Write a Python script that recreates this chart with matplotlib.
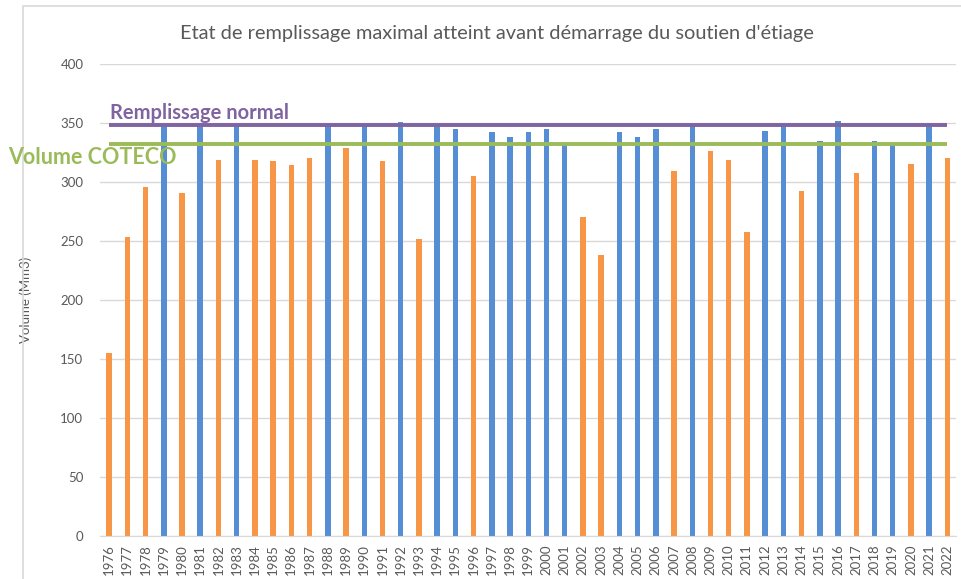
import matplotlib.pyplot as plt
from matplotlib.patches import Rectangle

years = list(range(1976, 2023))
volumes = [155, 253, 296, 349, 291, 349, 319, 349, 319, 318,
           314, 320, 349, 329, 349, 318, 351, 252, 348, 345,
           305, 342, 338, 342, 345, 331, 270, 238, 342, 338,
           345, 309, 349, 326, 319, 258, 343, 349, 292, 335,
           352, 308, 335, 331, 315, 349, 320]
# years where the COTECO volume was reached (blue bars)
reached = [1979, 1981, 1983, 1988, 1990, 1992, 1994, 1995, 1997, 1998,
           1999, 2000, 2001, 2004, 2005, 2006, 2008, 2012, 2013, 2015,
           2016, 2018, 2019, 2021]
normal_level = 348
coteco_level = 332

blue = '#558ED5'
orange = '#F79646'
purple = '#8064A2'
green = '#9BBB59'
grey = '#595959'

plt.rcParams['font.family'] = ['Lato', 'DejaVu Sans']

fig = plt.figure(figsize=(9.62, 5.79), dpi=100)
ax = fig.add_axes([100 / 962, 1 - 536 / 579, 856.5 / 962, 472 / 579])

# light frame around the chart
fig.patches.append(Rectangle((23 / 962, -0.1), 1.2, 1 - 6 / 579 + 0.1,
                             transform=fig.transFigure, fill=False,
                             edgecolor='#D9D9D9', linewidth=1.2))

x = list(range(len(years)))
colors = [blue if y in reached else orange for y in years]
ax.bar(x, volumes, width=0.3, color=colors, zorder=2)

ax.plot([0, 46], [normal_level, normal_level], color=purple, linewidth=2.8, zorder=3,
        solid_capstyle='butt')
ax.plot([0, 46], [coteco_level, coteco_level], color=green, linewidth=2.8, zorder=3,
        solid_capstyle='butt')

fig.text(110 / 962, 1 - 113 / 579, 'Remplissage normal', color=purple, fontsize=14.5,
         fontweight='bold', va='center', ha='left')
fig.text(8 / 962, 1 - 158 / 579, 'Volume COTECO', color=green, fontsize=15.5,
         fontweight='bold', va='center', ha='left')

ax.set_xlim(-0.5, len(years) - 0.5)
ax.set_ylim(0, 400)
ax.set_yticks(range(0, 401, 50))
ax.set_xticks(x)
ax.set_xticklabels([str(y) for y in years], rotation=90)
ax.tick_params(axis='both', length=0, colors=grey, labelsize=9.5)
ax.tick_params(axis='y', pad=12)
ax.tick_params(axis='x', pad=6)
ax.grid(axis='y', color='#D9D9D9', linewidth=1, zorder=0)
for s in ['top', 'right', 'left']:
    ax.spines[s].set_visible(False)
ax.spines['bottom'].set_color('#D9D9D9')

ax.set_ylabel('Volume (Mm3)', color=grey, fontsize=9.5, labelpad=20)
fig.text(497 / 962, 1 - 33 / 579, "Etat de remplissage maximal atteint avant démarrage du soutien d'étiage",
         ha='center', va='center', fontsize=14.4, color=grey)

fig.savefig('out.png', dpi=100)
